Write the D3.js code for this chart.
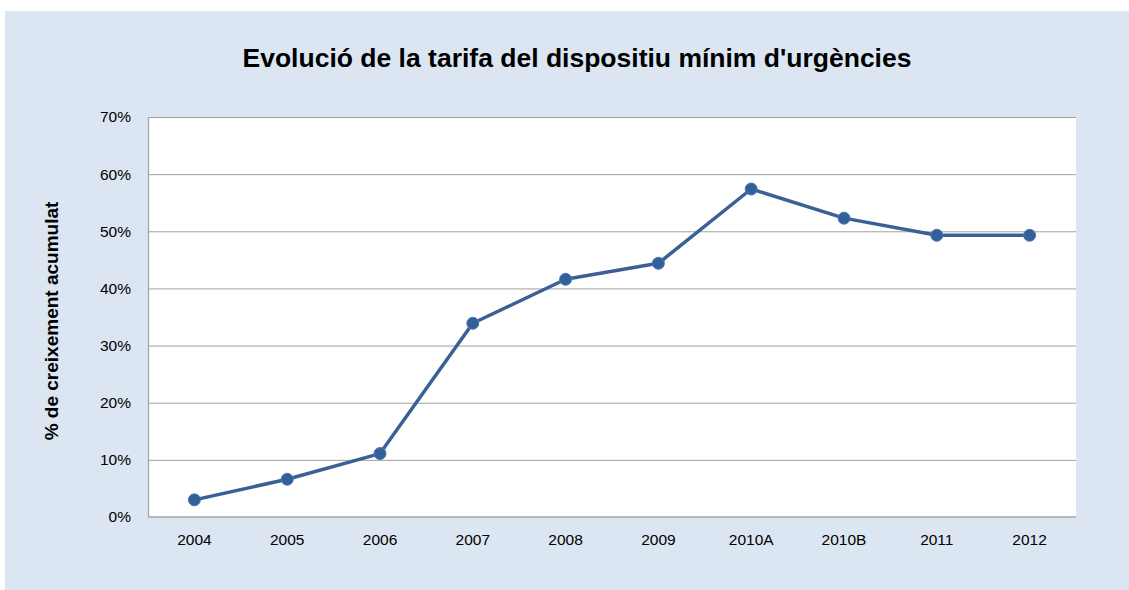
<!DOCTYPE html>
<html>
<head>
<meta charset="utf-8">
<script src="https://cdn.jsdelivr.net/npm/d3@7"></script>
<style>
  html, body { margin: 0; padding: 0; background: #ffffff; }
  svg { display: block; }
</style>
</head>
<body>
<svg id="chart" width="1129" height="590"></svg>
<script>
const categories = ["2004", "2005", "2006", "2007", "2008", "2009", "2010A", "2010B", "2011", "2012"];
const values = [3.0, 6.6, 11.1, 33.9, 41.6, 44.4, 57.4, 52.3, 49.3, 49.3];
const yTicks = [0, 10, 20, 30, 40, 50, 60, 70];
const title = "Evolució de la tarifa del dispositiu mínim d'urgències";
const yTitle = "% de creixement acumulat";

const svg = d3.select("#chart");
const W = 1129, H = 590;
const m = { left: 148, right: 1076, top: 117, bottom: 517 };

svg.append("rect").attr("x", 5).attr("y", 11).attr("width", W - 5).attr("height", H - 11)
  .attr("fill", "#dce6f2");

svg.append("rect").attr("x", m.left).attr("y", m.top)
  .attr("width", m.right - m.left).attr("height", m.bottom - m.top).attr("fill", "#ffffff");

const x = d3.scaleBand().domain(categories).range([m.left, m.right]).padding(0);
const y = d3.scaleLinear().domain([0, 70]).range([m.bottom, m.top]);

// gridlines
svg.append("g").selectAll("line").data(yTicks.filter(d => d > 0)).join("line")
  .attr("x1", m.left).attr("x2", m.right)
  .attr("y1", d => y(d) + 0.5).attr("y2", d => y(d) + 0.5)
  .attr("stroke", "#a0a0a0").attr("stroke-width", 1);

// y axis
const yAxis = d3.axisLeft(y).tickValues(yTicks).tickFormat(d => d + "%").tickSize(0).tickPadding(17);
const gy = svg.append("g").attr("transform", `translate(${m.left},0)`).call(yAxis);
gy.select(".domain").remove();
gy.selectAll("text").attr("font-family", "Liberation Sans, Arial, sans-serif")
  .attr("font-size", 15.5).attr("fill", "#000");
svg.append("line").attr("x1", m.left + 0.5).attr("x2", m.left + 0.5)
  .attr("y1", m.top).attr("y2", m.bottom).attr("stroke", "#a6a6a6").attr("stroke-width", 1.3);

// x axis
const xAxis = d3.axisBottom(x).tickSize(0).tickPadding(17);
const gx = svg.append("g").attr("transform", `translate(0,${m.bottom})`).call(xAxis);
gx.select(".domain").remove();
gx.selectAll("text").attr("font-family", "Liberation Sans, Arial, sans-serif")
  .attr("font-size", 15.5).attr("fill", "#000");
svg.append("line").attr("x1", m.left).attr("x2", m.right)
  .attr("y1", m.bottom).attr("y2", m.bottom).attr("stroke", "#a6a6a6").attr("stroke-width", 1.3);

// line
const line = d3.line().x((d, i) => x(categories[i]) + x.bandwidth() / 2).y(d => y(d));
svg.append("path").datum(values).attr("d", line)
  .attr("fill", "none").attr("stroke", "#3a6195").attr("stroke-width", 3.5)
  .attr("stroke-linejoin", "round");

svg.append("g").selectAll("circle").data(values).join("circle")
  .attr("cx", (d, i) => x(categories[i]) + x.bandwidth() / 2)
  .attr("cy", d => y(d))
  .attr("r", 6)
  .attr("fill", "#34609a").attr("stroke", "#4a78b4").attr("stroke-width", 1);

// title
svg.append("text").attr("x", 577).attr("y", 67).attr("text-anchor", "middle")
  .attr("font-family", "Liberation Sans, Arial, sans-serif").attr("font-weight", "bold")
  .attr("font-size", 26.5).attr("fill", "#000").text(title);

// y title
svg.append("text").attr("transform", "translate(58,321) rotate(-90)").attr("text-anchor", "middle")
  .attr("font-family", "Liberation Sans, Arial, sans-serif").attr("font-weight", "bold")
  .attr("font-size", 19).attr("fill", "#000").text(yTitle);
</script>
</body>
</html>
